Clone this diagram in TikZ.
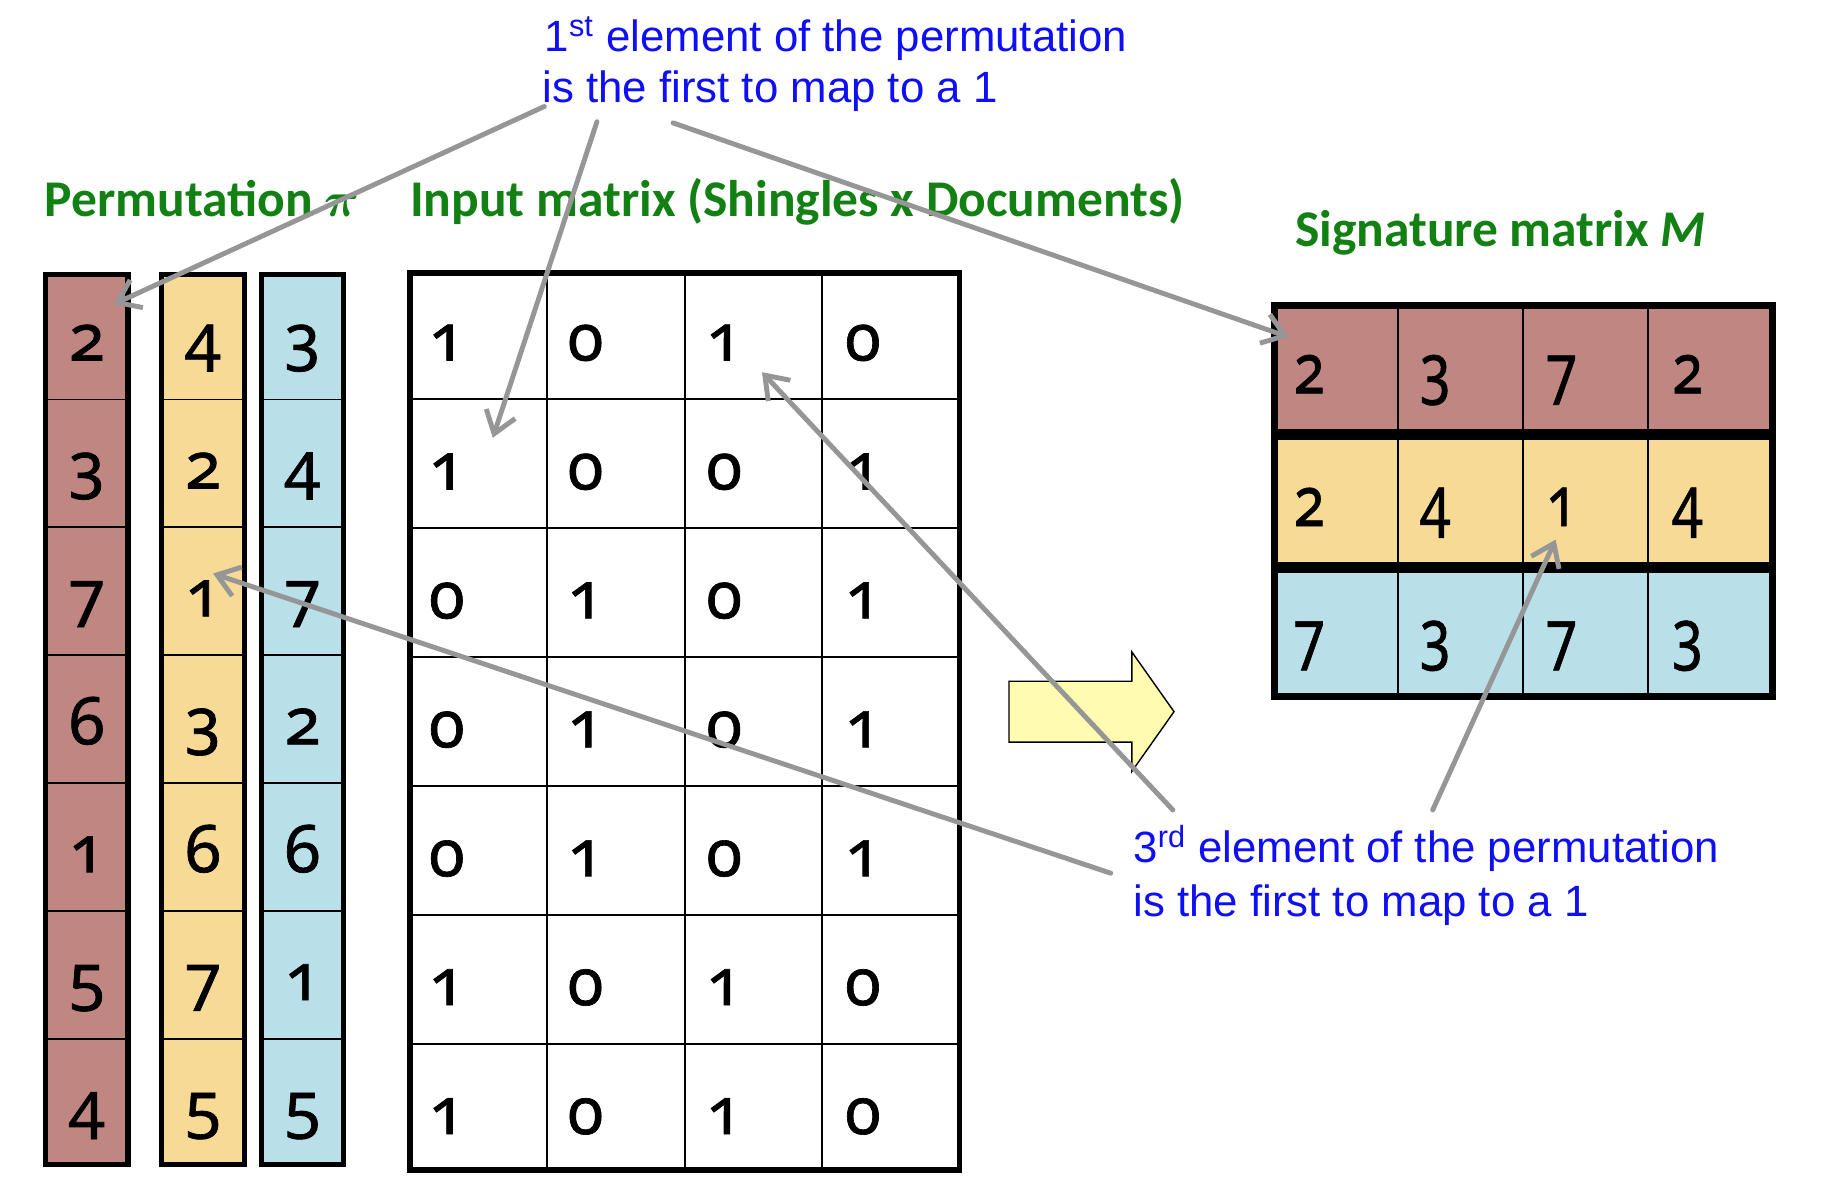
\documentclass[tikz,border=0pt]{standalone}
\usepackage{fontspec}
\setmainfont{Liberation Sans}
\newfontfamily\notefont{Liberation Sans}
\newfontfamily\titlefont{Carlito}
\newfontfamily\digfont[Numbers=OldStyle,FakeBold=1]{Noto Sans}
\newfontfamily\sigdigfont[Numbers=OldStyle,FakeStretch=0.8,FakeBold=0.8]{Noto Sans}
\usetikzlibrary{arrows.meta}
\definecolor{permred}{RGB}{191,134,130}
\definecolor{permyellow}{RGB}{247,218,150}
\definecolor{permblue}{RGB}{185,223,232}
\definecolor{titlegreen}{RGB}{18,128,18}
\definecolor{noteblue}{RGB}{15,15,245}
\definecolor{pointergray}{RGB}{150,150,150}
\definecolor{blockyellow}{RGB}{255,251,176}
\tikzset{
  notetext/.style={anchor=base west, inner sep=0pt, text=noteblue, font=\notefont\fontsize{18.7}{22}\selectfont},
  titletext/.style={anchor=base west, inner sep=0pt, text=titlegreen, font=\titlefont\bfseries\fontsize{22}{26}\selectfont},
  permdigit/.style={anchor=base, inner sep=0pt, font=\digfont\fontsize{28}{30}\selectfont},
  matdigit/.style={anchor=base west, inner sep=0pt, font=\digfont\fontsize{28}{30}\selectfont},
  sigdigit/.style={anchor=base west, inner sep=0pt, font=\sigdigfont\fontsize{30}{32}\selectfont},
  thinrule/.style={draw=black, line width=0.8pt},
  permborder/.style={draw=black, line width=2.2pt},
  matborder/.style={draw=black, line width=2.3pt},
  sigborder/.style={draw=black, line width=3pt},
  sigsep/.style={draw=black, line width=4.8pt},
  pointer/.style={draw=pointergray, line width=2.1pt, line cap=round, -{Straight Barb[length=9pt,width=13pt]}},
  blockarrow/.style={draw=black, line width=0.6pt, fill=blockyellow, line join=miter},
}
\begin{document}
\begin{tikzpicture}[x=0.5pt,y=-0.5pt]
\useasboundingbox (0,0) rectangle (1560,1010);
\fill[white] (0,0) rectangle (1560,1010);

% ---------- Permutation columns ----------
\foreach \c/\xl/\xr/\clr/\vals in {1/37/111.5/permred/{2,3,7,6,1,5,4},2/136/211/permyellow/{4,2,1,3,6,7,5},3/221/296/permblue/{3,4,7,2,6,1,5}}{
  \fill[\clr] (\xl,232) rectangle (\xr,997);
  \foreach \k in {1,...,6}{
    \draw[thinrule] (\xl,{232+\k*109.29}) -- (\xr,{232+\k*109.29});
  }
  \foreach \v [count=\r] in \vals {
    \node[permdigit] (p\c-\r) at ({(\xl+\xr)/2},{308+(\r-1)*109.29}) {\v};
  }
  \draw[permborder] ({\xl+2.2},234.2) rectangle ({\xr-2.2},994.8);
}

% ---------- Input matrix ----------
\foreach \xx in {467,585,702}{
  \draw[thinrule] (\xx,231) -- (\xx,1002);
}
\foreach \k in {1,...,6}{
  \draw[thinrule] (348,{231+\k*110.14}) -- (822,{231+\k*110.14});
}
\foreach \r/\vals in {1/{1,0,1,0},2/{1,0,0,1},3/{0,1,0,1},4/{0,1,0,1},5/{0,1,0,1},6/{1,0,1,0},7/{1,0,1,0}}{
  \foreach \v [count=\c] in \vals {
    \node[matdigit] (m\r-\c) at ({348+(\c-1)*118.5+18},{231+(\r-1)*110.14+77}) {\v};
  }
}
\draw[matborder] (350.3,233.3) rectangle (819.7,999.7);

% ---------- Signature matrix ----------
\fill[permred] (1086,258) rectangle (1517,371.5);
\fill[permyellow] (1086,371.5) rectangle (1517,485);
\fill[permblue] (1086,485) rectangle (1517,598);
\foreach \xx in {1194,1301,1408}{
  \draw[thinrule] (\xx,258) -- (\xx,598);
}
\draw[sigsep] (1086,371.5) -- (1517,371.5);
\draw[sigsep] (1086,485) -- (1517,485);
\draw[sigborder] (1089,261) rectangle (1514,595);
\foreach \r/\top/\vals in {1/258/{2,3,7,2},2/371.5/{2,4,1,4},3/485/{7,3,7,3}}{
  \foreach \v [count=\c] in \vals {
    \node[sigdigit] (s\r-\c) at ({1086+(\c-1)*107.75+19},{\top+78}) {\v};
  }
}

% ---------- Titles ----------
\node[titletext] (permtitle) at (38,185) {Permutation {\boldmath$\pi$}};
\node[titletext] (inputtitle) at (350,185) {Input matrix (Shingles x Documents)};
\node[titletext] (sigtitle) at (1106,211) {Signature matrix \textit{M}};

% ---------- Notes ----------
\node[notetext] (notea1) at (465,44) {1\textsuperscript{st} element of the permutation};
\node[notetext] (notea2) at (463,88) {is the first to map to a 1};
\node[notetext] (noteb1) at (968,737) {3\textsuperscript{rd} element of the permutation};
\node[notetext] (noteb2) at (968,783) {is the first to map to a 1};

% ---------- Block arrow ----------
\draw[blockarrow] (862,582) -- (967,582) -- (967,557) -- (1003,608) -- (967,659) -- (967,634) -- (862,634) -- cycle;

% ---------- Pointers ----------
\coordinate (s1) at (465,91);
\coordinate (t1) at (97,260);
\coordinate (s2) at (510,104);
\coordinate (t2) at (421,374);
\coordinate (s3) at (575,105);
\coordinate (t3) at (1101,288);
\coordinate (s4) at (1002,692);
\coordinate (t4) at (651,318);
\coordinate (s5) at (949,746);
\coordinate (t5) at (182,490);
\coordinate (s6) at (1224,692);
\coordinate (t6) at (1329,461);
\foreach \i in {1,...,6}{
  \draw[pointer] (s\i) -- (t\i);
}
\end{tikzpicture}
\end{document}
